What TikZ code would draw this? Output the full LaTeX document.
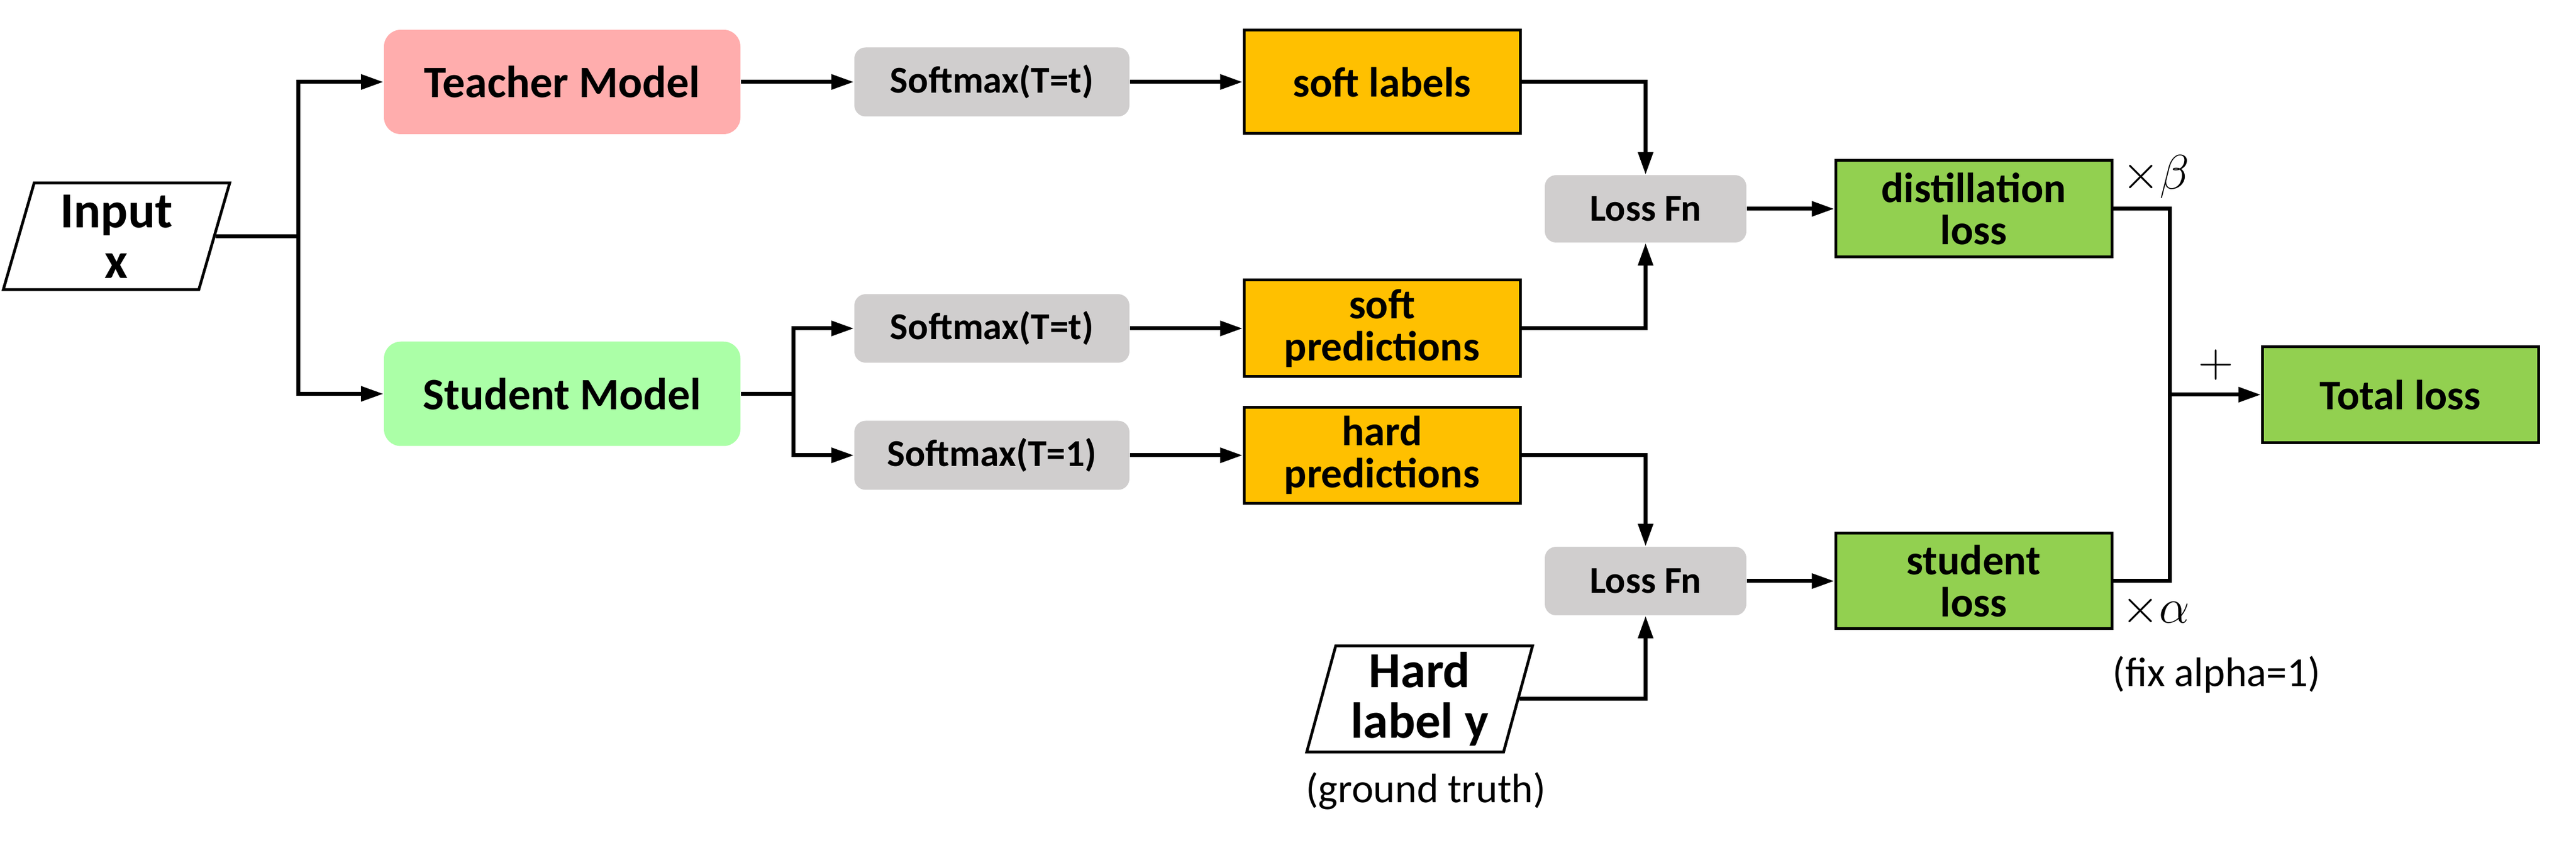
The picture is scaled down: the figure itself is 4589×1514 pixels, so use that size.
\documentclass[tikz,border=0pt]{standalone}
\usepackage{fontspec}
\setmainfont{Carlito}
\usetikzlibrary{shapes.geometric,arrows.meta}
\definecolor{tpink}{HTML}{FFADAD}
\definecolor{sgreen}{HTML}{ABFFA7}
\definecolor{sgray}{HTML}{D0CECE}
\definecolor{sorange}{HTML}{FFC000}
\definecolor{lgreen}{HTML}{92D050}
\tikzset{
  conn/.style={line width=1.4pt,-{Triangle[length=8pt,width=5.2pt]}},
  plain/.style={line width=1.4pt},
  modelbox/.style={rectangle,rounded corners=6pt,minimum width=127pt,minimum height=37.2pt,inner sep=0pt,font=\fontsize{16}{16}\selectfont\bfseries},
  graybox/.style={rectangle,fill=sgray,rounded corners=4pt,inner sep=0pt,font=\fontsize{13.5}{13.5}\selectfont\bfseries},
  outbox/.style={rectangle,draw=black,line width=1pt,minimum width=98.4pt,inner sep=0pt,align=center,font=\fontsize{15}{15}\selectfont\bfseries},
  databox/.style={trapezium,trapezium left angle=75.8,trapezium right angle=104.2,trapezium stretches=true,draw=black,line width=1pt,inner sep=0pt,align=center,font=\fontsize{18}{18}\selectfont\bfseries},
  note/.style={inner sep=0pt,font=\fontsize{14.7}{14.7}\selectfont},
  mathlbl/.style={inner sep=0pt,font=\fontsize{19}{19}\selectfont}
}
\begin{document}
\begin{tikzpicture}[x=0.2pt,y=-0.2pt]
\useasboundingbox (0,0) rectangle (4589,1514);
% nodes
\node[databox,minimum width=81pt,minimum height=38pt] (input) at (207.5,421) {Input\\x};
\node[modelbox,fill=tpink] (teacher) at (1001.5,146) {Teacher Model};
\node[modelbox,fill=sgreen] (student) at (1001.5,701.5) {Student Model};
\node[graybox,minimum width=98pt,minimum height=24.6pt] (smt1) at (1767,146) {Softmax(T=t)};
\node[graybox,minimum width=98pt,minimum height=24.4pt] (smt2) at (1767,585) {Softmax(T=t)};
\node[graybox,minimum width=98pt,minimum height=24.6pt] (sm1) at (1767,811) {Softmax(T=1)};
\node[outbox,fill=sorange,minimum height=36.8pt] (softlabels) at (2462,146) {soft labels};
\node[outbox,fill=sorange,minimum height=34.4pt] (softpred) at (2462,585) {soft\\predictions};
\node[outbox,fill=sorange,minimum height=34.2pt] (hardpred) at (2462,811) {hard\\predictions};
\node[graybox,minimum width=71.8pt,minimum height=24pt] (loss1) at (2931.5,372) {Loss Fn};
\node[graybox,minimum width=71.8pt,minimum height=24.4pt] (loss2) at (2931.5,1035) {Loss Fn};
\node[outbox,fill=lgreen,minimum height=34.4pt] (distill) at (3516,372) {distillation\\loss};
\node[outbox,fill=lgreen,minimum height=34pt] (studloss) at (3516,1035) {student\\loss};
\node[outbox,fill=lgreen,minimum height=34.2pt] (total) at (4276,703) {Total loss};
\node[databox,minimum width=80.8pt,minimum height=37.8pt] (hardlabel) at (2529,1245) {Hard\\label y};
\node[note] (gt) at (2540,1409) {(ground truth)};
\node[note] (fix) at (3949,1202) {(fix alpha=1)};
\node[mathlbl] (beta) at (3840,315) {$\times\beta$};
\node[mathlbl] (alpha) at (3840,1088) {$\times\alpha$};
\node[mathlbl] (plus) at (3948,650) {$+$};
% junctions
\coordinate (j1) at (531,421);
\coordinate (j2) at (1413,701.5);
\coordinate (j3) at (3865,372);
\coordinate (j4) at (3865,1035);
\coordinate (j5) at (3865,703);
% connectors
\draw[plain] (input.east) -- (j1);
\draw[conn] (j1) |- (teacher.west);
\draw[conn] (j1) |- (student.west);
\draw[conn] (teacher.east) -- (smt1.west);
\draw[conn] (smt1.east) -- (softlabels.west);
\draw[plain] (student.east) -- (j2);
\draw[conn] (j2) |- (smt2.west);
\draw[conn] (j2) |- (sm1.west);
\draw[conn] (smt2.east) -- (softpred.west);
\draw[conn] (sm1.east) -- (hardpred.west);
\draw[conn] (softlabels.east) -| (loss1.north);
\draw[conn] (softpred.east) -| (loss1.south);
\draw[conn] (hardpred.east) -| (loss2.north);
\draw[conn] (hardlabel.east) -| (loss2.south);
\draw[conn] (loss1.east) -- (distill.west);
\draw[conn] (loss2.east) -- (studloss.west);
\draw[plain] (distill.east) -- (j3) -- (j4) -- (studloss.east);
\draw[conn] (j5) -- (total.west);
\end{tikzpicture}
\end{document}
